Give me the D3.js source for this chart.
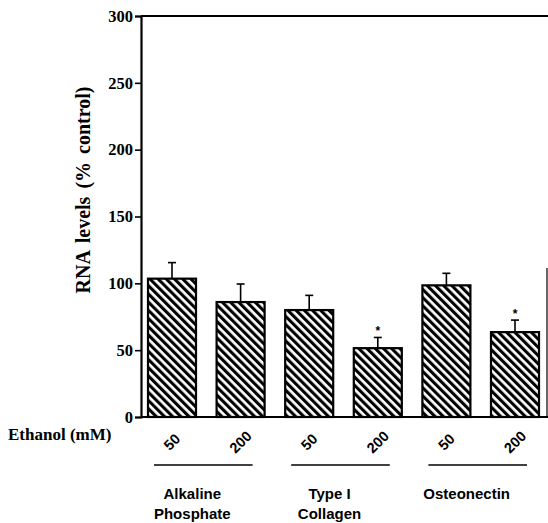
<!DOCTYPE html>
<html>
<head>
<meta charset="utf-8">
<script src="https://cdn.jsdelivr.net/npm/d3@7"></script>
<style>
  html, body { margin: 0; padding: 0; background: #fff; }
  svg { display: block; }
</style>
</head>
<body>
<script>
// ---- data ----
const categories = ["AP50", "AP200", "COL50", "COL200", "ON50", "ON200"];
const doseLabels = ["50", "200", "50", "200", "50", "200"];
const values = [103.5, 86, 80, 51.5, 98.5, 63.5];
const errors = [12, 13.5, 11, 8, 9, 9];
const significant = [false, false, false, true, false, true];
const groupNames = [["Alkaline", "Phosphate"], ["Type I", "Collagen"], ["Osteonectin"]];
const groupMembers = [["AP50", "AP200"], ["COL50", "COL200"], ["ON50", "ON200"]];
const yTicks = [0, 50, 100, 150, 200, 250, 300];

const W = 548, H = 523;
const svg = d3.select("body").append("svg").attr("width", W).attr("height", H);
const serif = "'Liberation Serif', 'Times New Roman', 'DejaVu Serif', serif";
const sans = "'Liberation Sans', Arial, Helvetica, sans-serif";

const defs = svg.append("defs");
const pat = defs.append("pattern")
  .attr("id", "hatch").attr("patternUnits", "userSpaceOnUse")
  .attr("width", 5.8).attr("height", 5.8)
  .attr("patternTransform", "rotate(-45)");
pat.append("rect").attr("width", 5.8).attr("height", 5.8).attr("fill", "#fff");
pat.append("rect").attr("width", 3.1).attr("height", 5.8).attr("fill", "#000");

const y = d3.scaleLinear().domain([0, 300]).range([417, 16]);
const x = d3.scaleBand().domain(categories).range([137.7, 549.3])
  .paddingInner(0.3).paddingOuter(0.15);
const axisX = 141;

// y axis
const yAxis = d3.axisLeft(y).tickValues(yTicks).tickSize(6).tickPadding(2);
const gy = svg.append("g").attr("transform", `translate(${axisX},0)`).call(yAxis);
gy.attr("font-family", serif);
gy.select(".domain").attr("stroke", "#000").attr("stroke-width", 2.2);
gy.selectAll(".tick line").attr("stroke", "#000").attr("stroke-width", 1.6);
gy.selectAll(".tick text")
  .attr("font-family", serif)
  .attr("font-weight", "bold").attr("font-size", 16.5).attr("fill", "#000");

// frame: top line, partial right line, baseline
svg.append("line").attr("x1", axisX).attr("x2", W).attr("y1", y(300)).attr("y2", y(300))
  .attr("stroke", "#000").attr("stroke-width", 2.2);
svg.append("line").attr("x1", 547).attr("x2", 547).attr("y1", 268).attr("y2", y(0))
  .attr("stroke", "#000").attr("stroke-width", 1.2);
svg.append("line").attr("x1", axisX).attr("x2", W).attr("y1", y(0)).attr("y2", y(0))
  .attr("stroke", "#000").attr("stroke-width", 2.2);

// bars
svg.append("g").selectAll("rect").data(categories).join("rect")
  .attr("x", d => x(d)).attr("width", x.bandwidth())
  .attr("y", (d, i) => y(values[i])).attr("height", (d, i) => y(0) - y(values[i]))
  .attr("fill", "url(#hatch)").attr("stroke", "#000").attr("stroke-width", 2.2);

// error bars (upper only)
const eg = svg.append("g").attr("stroke", "#000").attr("stroke-width", 1.6);
categories.forEach((c, i) => {
  const cx = x(c) + x.bandwidth() / 2;
  eg.append("line").attr("x1", cx).attr("x2", cx)
    .attr("y1", y(values[i])).attr("y2", y(values[i] + errors[i]));
  eg.append("line").attr("x1", cx - 4).attr("x2", cx + 4)
    .attr("y1", y(values[i] + errors[i])).attr("y2", y(values[i] + errors[i]));
  if (significant[i]) {
    svg.append("text").attr("x", cx).attr("y", y(values[i] + errors[i]) - 2)
      .attr("text-anchor", "middle")
      .attr("font-family", sans)
      .attr("font-weight", "bold").attr("font-size", 12).text("*");
  }
});

// y title
svg.append("text")
  .attr("transform", `translate(90,190) rotate(-90)`)
  .attr("text-anchor", "middle")
  .attr("font-family", serif)
  .attr("font-weight", "bold").attr("font-size", 20)
  .attr("word-spacing", 3)
  .text("RNA levels (% control)");

// Ethanol label
svg.append("text").attr("x", 8).attr("y", 440)
  .attr("font-family", serif)
  .attr("font-weight", "bold").attr("font-size", 17)
  .text("Ethanol (mM)");

// dose labels (rotated)
svg.append("g").selectAll("text").data(categories).join("text")
  .attr("transform", d => `translate(${x(d) + x.bandwidth() / 2},442) rotate(-45)`)
  .attr("text-anchor", "middle").attr("dominant-baseline", "central")
  .attr("font-family", sans)
  .attr("font-weight", "bold").attr("font-size", 14.5)
  .text((d, i) => doseLabels[i]);

// group lines and labels
groupMembers.forEach((g, gi) => {
  const c0 = x(g[0]) + x.bandwidth() / 2;
  const c1 = x(g[1]) + x.bandwidth() / 2;
  svg.append("line").attr("x1", c0 - 18).attr("x2", c1 + 12)
    .attr("y1", 465).attr("y2", 465).attr("stroke", "#000").attr("stroke-width", 1.3);
  const mid = (c0 + c1) / 2 - 14;
  const t = svg.append("text").attr("text-anchor", "middle")
    .attr("font-family", sans)
    .attr("font-weight", "bold").attr("font-size", 15);
  groupNames[gi].forEach((line, li) => {
    t.append("tspan").attr("x", mid).attr("y", 499 + li * 20).text(line);
  });
});
</script>
</body>
</html>
